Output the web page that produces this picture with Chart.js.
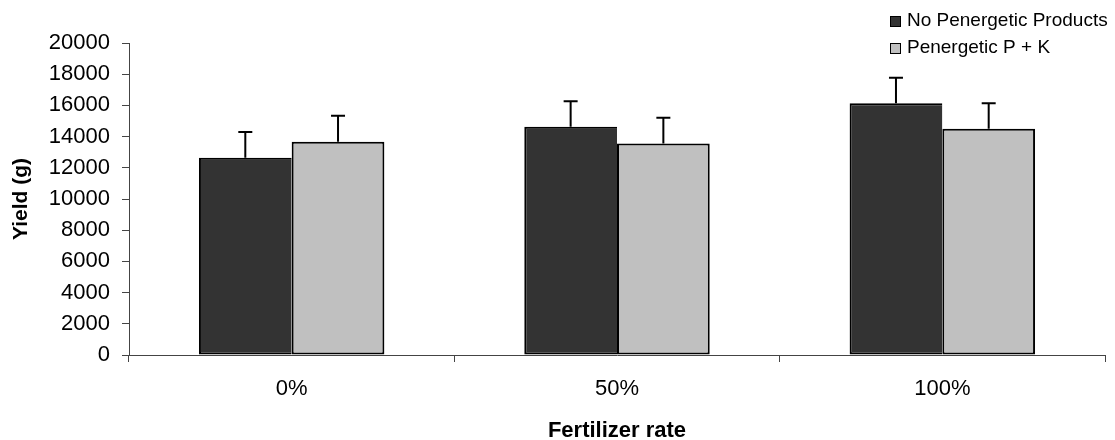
<!DOCTYPE html>
<html lang="en">
<head>
  <meta charset="UTF-8" />
  <title>Yield by fertilizer rate</title>
  <style>
    html, body { margin: 0; padding: 0; background: #fff; }
    #wrap { width: 1115px; height: 440px; position: relative; }
  </style>
</head>
<body>
  <div id="wrap"><canvas id="yieldChart"></canvas></div>

  <script src="https://cdn.jsdelivr.net/npm/chart.js"></script>
  <script>
    // Data
    const rates = ['0%', '50%', '100%'];
    const seriesNames = ['No Penergetic Products', 'Penergetic P + K'];
    const noPenergetic = [12650, 14630, 16130];
    const penergeticPK = [13670, 13560, 14500];
    const noPenergeticErr = [1640, 1640, 1650];
    const penergeticPKErr = [1670, 1650, 1630];
    const yTicks = [0, 2000, 4000, 6000, 8000, 10000, 12000, 14000, 16000, 18000, 20000];

    const FONT = "'Liberation Sans', Arial, sans-serif";

    // simple error bars (upper only) drawn from the y scale
    const errorBars = {
      id: 'errorBars',
      afterDatasetsDraw(chart) {
        const ctx = chart.ctx;
        const y = chart.scales.y;
        ctx.save();
        ctx.strokeStyle = '#000';
        ctx.lineWidth = 2;
        chart.data.datasets.forEach((ds, i) => {
          const meta = chart.getDatasetMeta(i);
          meta.data.forEach((bar, j) => {
            const top = y.getPixelForValue(ds.data[j] + ds.errors[j]);
            ctx.beginPath();
            ctx.moveTo(bar.x, bar.y);
            ctx.lineTo(bar.x, top);
            ctx.moveTo(bar.x - 7, top);
            ctx.lineTo(bar.x + 7, top);
            ctx.stroke();
          });
        });
        ctx.restore();
      }
    };

    // legend stacked at top right, like the original
    const stackedLegend = {
      id: 'stackedLegend',
      afterDraw(chart) {
        const ctx = chart.ctx;
        ctx.save();
        ctx.font = '19px ' + FONT;
        ctx.textBaseline = 'middle';
        chart.data.datasets.forEach((ds, i) => {
          const cy = 21 + i * 27;
          ctx.fillStyle = ds.backgroundColor;
          ctx.fillRect(890, cy - 5, 10, 10);
          ctx.strokeStyle = '#000';
          ctx.lineWidth = 1;
          ctx.strokeRect(890.5, cy - 4.5, 10, 10);
          ctx.fillStyle = '#000';
          ctx.fillText(ds.label, 907, cy);
        });
        ctx.restore();
      }
    };

    const ctxYield = document.getElementById('yieldChart').getContext('2d');
    const yieldChart = new Chart(ctxYield, {
      type: 'bar',
      data: {
        labels: rates,
        datasets: [{
          label: seriesNames[0],
          data: noPenergetic,
          errors: noPenergeticErr,
          backgroundColor: '#333333',
          borderColor: '#000',
          borderWidth: 2,
          borderSkipped: 'right',
          inflateAmount: 0
        }, {
          label: seriesNames[1],
          data: penergeticPK,
          errors: penergeticPKErr,
          backgroundColor: '#c0c0c0',
          borderColor: '#000',
          borderWidth: 2,
          borderSkipped: false,
          inflateAmount: 0
        }]
      },
      options: {
        responsive: true,
        maintainAspectRatio: false,
        animation: false,
        categoryPercentage: 0.57,
        barPercentage: 1.0,
        layout: { padding: { top: 43, right: 10, bottom: 0, left: 0 } },
        plugins: {
          legend: { display: false },
          tooltip: { enabled: false }
        },
        scales: {
          x: {
            offset: true,
            afterFit(scale) { scale.height = 85; },
            grid: {
              offset: true,
              drawOnChartArea: false,
              tickLength: 7,
              color: '#444'
            },
            border: { color: '#444', width: 1 },
            ticks: {
              color: '#000',
              padding: 14,
              font: { family: FONT, size: 22 }
            },
            title: {
              display: true,
              text: 'Fertilizer rate',
              color: '#000',
              padding: { top: 0, bottom: -4 },
              font: { family: FONT, size: 22, weight: 'bold' }
            }
          },
          y: {
            min: 0,
            max: 20000,
            afterFit(scale) { scale.width = 129; },
            afterBuildTicks(scale) { scale.ticks = yTicks.map(v => ({ value: v })); },
            grid: {
              drawOnChartArea: false,
              tickLength: 7,
              color: '#444'
            },
            border: { color: '#444', width: 1 },
            ticks: {
              color: '#000',
              padding: 12,
              font: { family: FONT, size: 22 },
              callback: v => String(v)
            },
            title: {
              display: true,
              text: 'Yield (g)',
              color: '#000',
              padding: { top: 9, bottom: 0 },
              font: { family: FONT, size: 21, weight: 'bold' }
            }
          }
        }
      },
      plugins: [errorBars, stackedLegend]
    });
  </script>
</body>
</html>
